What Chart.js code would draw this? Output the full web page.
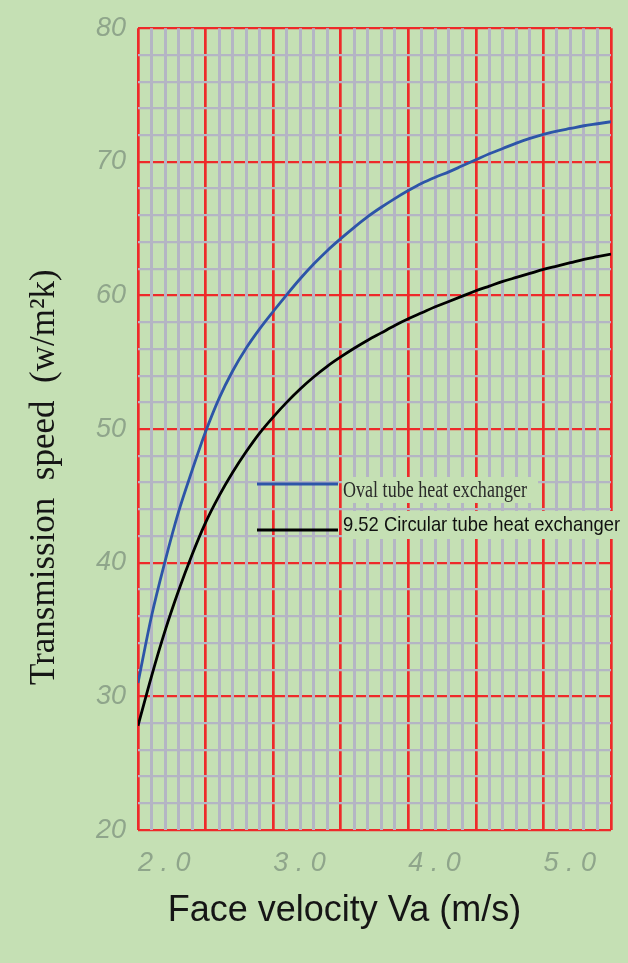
<!DOCTYPE html>
<html lang="en">
  <head>
    <meta charset="UTF-8" />
    <title>Transmission speed vs face velocity</title>
    <script src="https://cdn.jsdelivr.net/npm/chart.js@4.4.1/dist/chart.umd.min.js"></script>
    <style>
      body { margin: 0; background: #c5e0b4; }
      #wrap { position: relative; width: 628px; height: 963px; }
    </style>
  </head>

  <body>
    <div id="wrap">
      <canvas id="myChart"></canvas>
    </div>

    <script>
      // face velocity (m/s), one point every 0.1
      const velocity = [
        2.0, 2.1, 2.2, 2.3, 2.4, 2.5, 2.6, 2.7, 2.8, 2.9,
        3.0, 3.1, 3.2, 3.3, 3.4, 3.5, 3.6, 3.7, 3.8, 3.9,
        4.0, 4.1, 4.2, 4.3, 4.4, 4.5, 4.6, 4.7, 4.8, 4.9,
        5.0, 5.1, 5.2, 5.3, 5.4, 5.5
      ];
      const ovalTube = [
        31.0, 36.0, 40.1, 43.8, 46.9, 49.8, 52.3, 54.35, 56.05, 57.5,
        58.8, 60.05, 61.25, 62.35, 63.35, 64.25, 65.1, 65.9, 66.6, 67.25,
        67.85, 68.4, 68.85, 69.25, 69.7, 70.15, 70.6, 71.0, 71.4, 71.75,
        72.05, 72.3, 72.5, 72.7, 72.85, 73.0
      ];
      const circularTube = [
        27.8, 31.5, 34.9, 37.9, 40.6, 43.0, 45.0, 46.75, 48.3, 49.7,
        50.9, 52.0, 53.0, 53.9, 54.7, 55.4, 56.05, 56.65, 57.2, 57.75,
        58.25, 58.7, 59.15, 59.55, 59.95, 60.35, 60.7, 61.05, 61.35, 61.65,
        61.95, 62.2, 62.45, 62.7, 62.9, 63.1
      ];
      const seriesLabels = ["Oval tube heat exchanger", "9.52 Circular tube heat exchanger"];
      const xTitle = "Face velocity Va (m/s)";
      const yTitle = "Transmission\u00a0\u00a0speed\u00a0\u00a0(w/m\u00b2k)";

      const RED = "#ee2a2a";
      const GRAY = "#b4b5c4";
      const TICK_FONT = { family: "Liberation Sans", size: 27, style: "italic" };
      const TICK_COLOR = "#8fa58b";

      const toPoints = (ys) => velocity.map((x, i) => ({ x: x, y: ys[i] }));
      const onStep = (v, step) => Math.abs(v / step - Math.round(v / step)) < 1e-6;
      const pad = (n) => "\u00a0".repeat(n);

      // draws the two legend rows inside the plot, text squeezed like the original
      const inlineLegend = {
        id: "inlineLegend",
        afterDraw(chart, args, opts) {
          const ctx = chart.ctx;
          chart.data.datasets.forEach((ds, i) => {
            const row = opts.rows[i];
            ctx.save();
            ctx.fillStyle = opts.background;
            ctx.fillRect(row.box[0], row.box[1], row.box[2], row.box[3]);
            ctx.strokeStyle = ds.borderColor;
            ctx.lineWidth = 3;
            ctx.beginPath();
            ctx.moveTo(row.line[0], row.lineY);
            ctx.lineTo(row.line[1], row.lineY);
            ctx.stroke();
            ctx.font = row.font;
            ctx.fillStyle = row.color;
            ctx.textBaseline = "alphabetic";
            const w = ctx.measureText(ds.label).width;
            ctx.translate(row.textX, row.baseline);
            ctx.scale(row.width / w, 1);
            ctx.fillText(ds.label, 0, 0);
            ctx.restore();
          });
        },
      };

      const ctx = document.getElementById("myChart");

      const config = {
        type: "line",
        data: {
          datasets: [
            {
              label: seriesLabels[0],
              data: toPoints(ovalTube),
              borderColor: "#2d55a8",
              borderWidth: 2.8,
              pointRadius: 0,
              cubicInterpolationMode: "monotone",
            },
            {
              label: seriesLabels[1],
              data: toPoints(circularTube),
              borderColor: "#000000",
              borderWidth: 2.8,
              pointRadius: 0,
              cubicInterpolationMode: "monotone",
            },
          ],
        },
        options: {
          responsive: true,
          maintainAspectRatio: false,
          animation: false,
          layout: { padding: { top: 26, right: 16, left: 0, bottom: 0 } },
          plugins: {
            legend: { display: false },
            tooltip: { enabled: false },
            inlineLegend: {
              background: "#c5e0b4",
              rows: [
                {
                  box: [342, 477, 196, 26], line: [257, 338], lineY: 484,
                  textX: 343, baseline: 497, width: 184,
                  font: "24px 'Liberation Serif'", color: "#2a2a2a",
                },
                {
                  box: [342, 511, 281, 28], line: [257, 338], lineY: 530,
                  textX: 343, baseline: 531, width: 277,
                  font: "21px 'Liberation Sans'", color: "#111111",
                },
              ],
            },
          },
          scales: {
            x: {
              type: "linear",
              position: "bottom",
              min: 2,
              max: 5.5,
              afterFit: (s) => { s.height = 133; },
              border: { display: false },
              grid: { color: RED, lineWidth: 2.7, drawTicks: false, z: -2 },
              ticks: {
                stepSize: 0.5,
                autoSkip: false,
                maxRotation: 0,
                align: "start",
                padding: 17,
                font: TICK_FONT,
                color: TICK_COLOR,
                callback: (v) => (onStep(v, 1) ? v.toFixed(1).split("").join(" ") : ""),
              },
              title: {
                display: true,
                text: xTitle + pad(6),
                color: "#151515",
                font: { family: "Liberation Sans", size: 36 },
                padding: { top: 0, bottom: 30 },
              },
            },
            x2: {
              type: "linear",
              position: "bottom",
              min: 2,
              max: 5.5,
              afterFit: (s) => { s.height = 0; },
              border: { display: false },
              grid: {
                color: (c) => (onStep(c.tick.value, 0.5) ? "rgba(0,0,0,0)" : GRAY),
                lineWidth: 3,
                drawTicks: false,
                z: -1,
              },
              ticks: { stepSize: 0.1, display: false },
            },
            y: {
              type: "linear",
              position: "left",
              min: 20,
              max: 80,
              afterFit: (s) => { s.width = 138; },
              border: { display: false },
              grid: { color: RED, lineWidth: 2.2, drawTicks: false, z: -2 },
              ticks: {
                stepSize: 10,
                padding: 12,
                font: TICK_FONT,
                color: TICK_COLOR,
              },
              title: {
                display: true,
                text: yTitle + pad(11),
                color: "#151515",
                font: { family: "Liberation Serif", size: 35 },
                padding: { top: 24, bottom: 0 },
              },
            },
            y2: {
              type: "linear",
              position: "left",
              min: 20,
              max: 80,
              afterFit: (s) => { s.width = 0; },
              border: { display: false },
              grid: {
                color: (c) => (onStep(c.tick.value, 10) ? "rgba(0,0,0,0)" : GRAY),
                lineWidth: 2.2,
                drawTicks: false,
                z: -1,
              },
              ticks: { stepSize: 2, display: false },
            },
          },
        },
        plugins: [inlineLegend],
      };

      const myChart = new Chart(ctx, config);
    </script>
  </body>
</html>
